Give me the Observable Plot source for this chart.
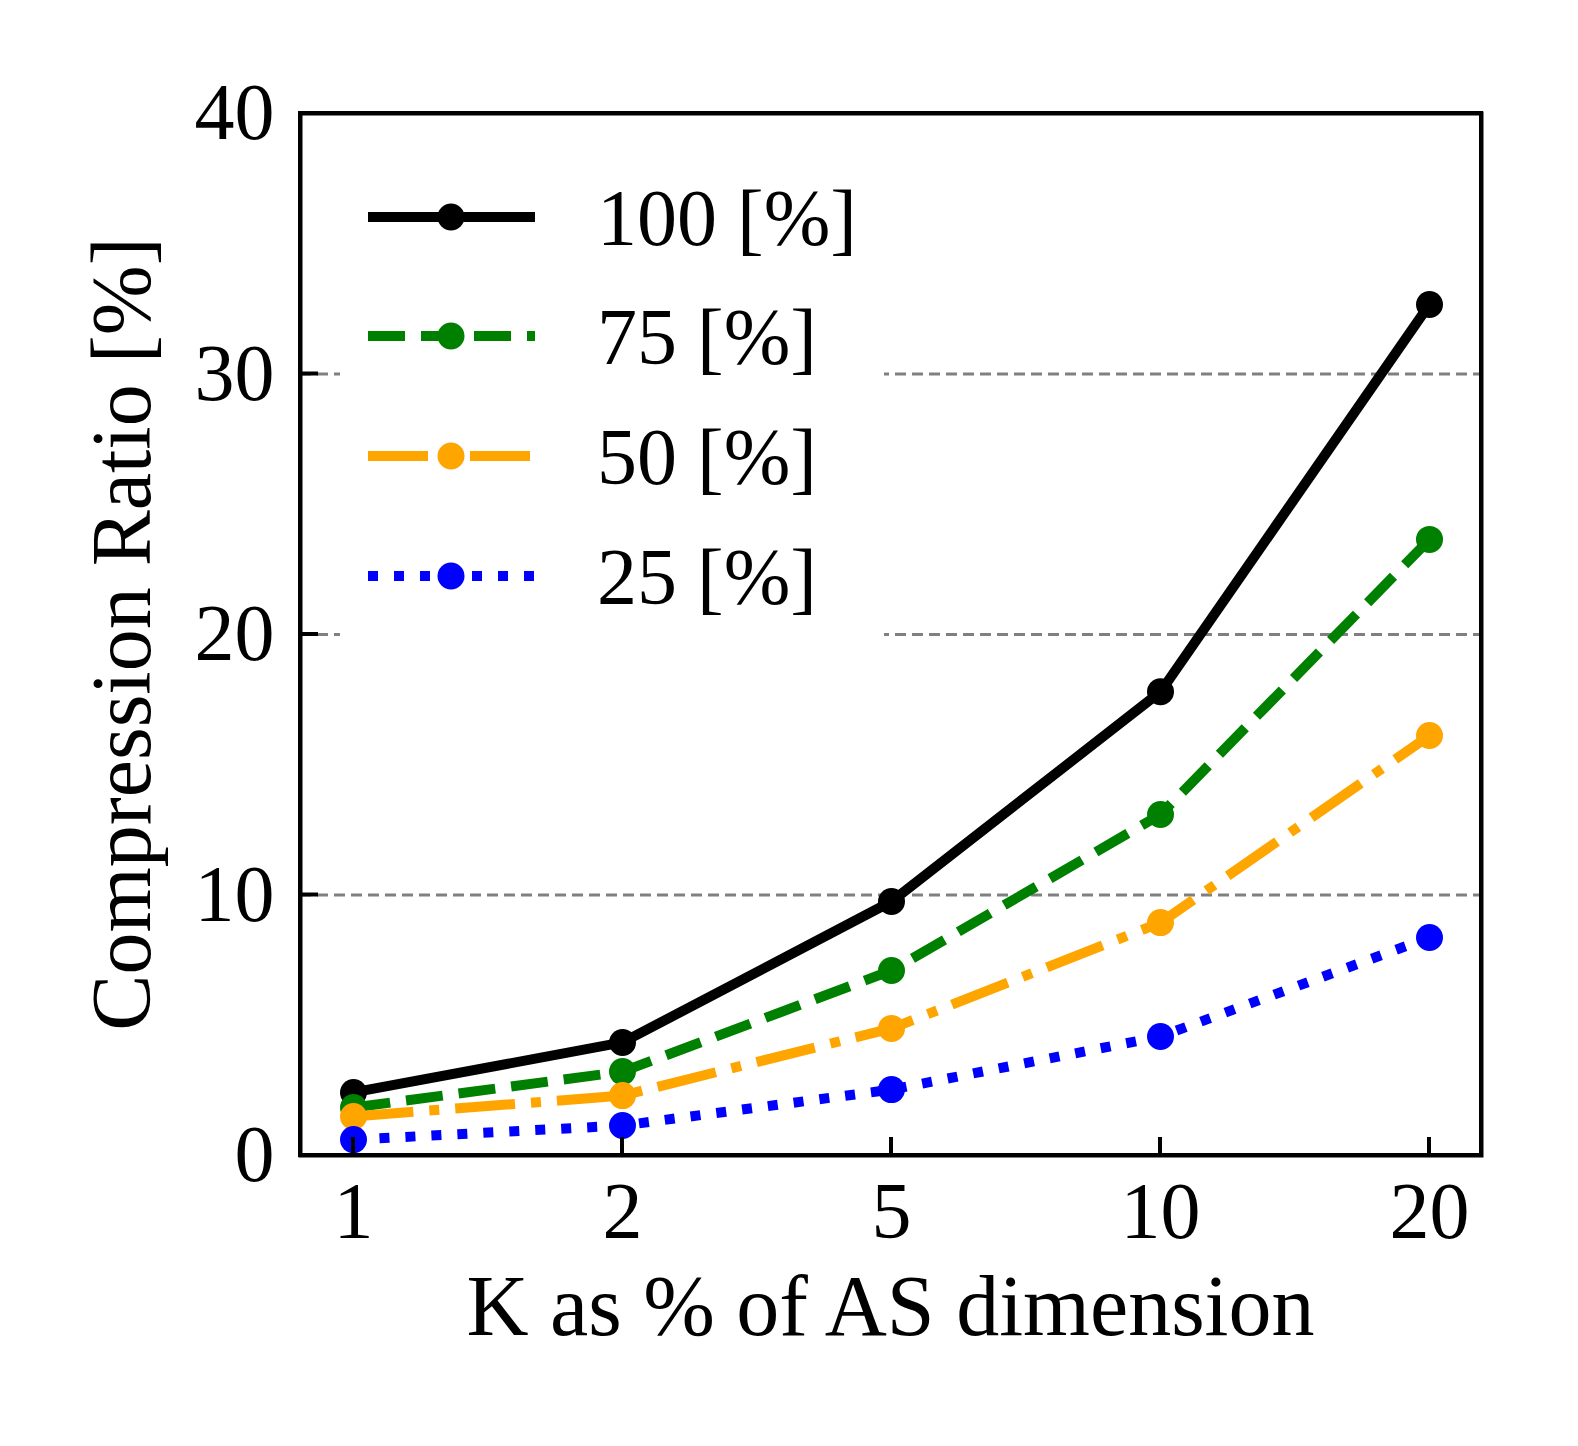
<!DOCTYPE html>
<html><head><meta charset="utf-8">
<script src="https://cdn.jsdelivr.net/npm/d3@7"></script>
<script src="https://cdn.jsdelivr.net/npm/@observablehq/plot@0.6"></script>
<style>
html,body{margin:0;padding:0;background:#fff;}
#chart{width:1578px;height:1446px;}
svg{font-family:"Liberation Serif","DejaVu Serif",serif;}
</style></head>
<body><div id="chart"></div>
<script>
const kValues = ["1", "2", "5", "10", "20"];
const seriesNames = ["100 [%]", "75 [%]", "50 [%]", "25 [%]"];
const values100 = [2.42, 4.34, 9.75, 17.8, 32.67];
const values75 = [1.84, 3.22, 7.1, 13.09, 23.65];
const values50 = [1.5, 2.3, 4.88, 8.94, 16.12];
const values25 = [0.61, 1.15, 2.53, 4.57, 8.37];
const yTicks = [0, 10, 20, 30, 40];
const gridValues = [10, 20, 30];
const colors = ["black", "green", "orange", "blue"];
const dashes = [null, "37,16", "60,16,10,16", "10,16"];
const xLabel = "K as % of AS dimension";
const yLabel = "Compression Ratio [%]";

const allSeries = [values100, values75, values50, values25];
const tables = allSeries.map((vals, i) => vals.map((v, j) => ({k: kValues[j], v, s: seriesNames[i]})));

const lineMarks = tables.flatMap((t, i) => [
  Plot.line(t, {x: "k", y: "v", stroke: colors[i], strokeWidth: 10,
    strokeDasharray: dashes[i] || undefined, strokeLinecap: "butt", strokeLinejoin: "round"}),
  Plot.dot(t, {x: "k", y: "v", r: 13.5, fill: colors[i], stroke: "none"})
]);

const plot = Plot.plot({
  width: 1578,
  height: 1446,
  marginLeft: 300,
  marginRight: 97,
  marginTop: 113,
  marginBottom: 291,
  style: {fontFamily: '"Liberation Serif","DejaVu Serif",serif', background: "white"},
  x: {type: "point", domain: kValues, padding: 0.195},
  y: {domain: [0, 40]},
  marks: [
    Plot.ruleY(gridValues, {stroke: "#808080", strokeWidth: 3, strokeDasharray: "11,6"}),
    ...lineMarks,
    Plot.axisX({tickSize: 0, tickPadding: 26, fontSize: 80, label: null}),
    Plot.axisY({ticks: yTicks, tickSize: 0, tickPadding: 26, fontSize: 80, label: null}),
    Plot.frame({stroke: "black", strokeWidth: 4})
  ]
});
document.getElementById("chart").appendChild(plot);

const svg = d3.select(plot);
const xs = plot.scale("x"), ys = plot.scale("y");
const fLeft = 300, fRight = 1578 - 97, fTop = 113, fBottom = 1446 - 291;

// inward ticks
const tg = svg.append("g").attr("stroke", "black").attr("stroke-width", 4);
kValues.forEach(k => {
  const x = xs.apply(k);
  tg.append("line").attr("x1", x).attr("x2", x).attr("y1", fBottom).attr("y2", fBottom - 18);
});
yTicks.forEach(t => {
  const y = ys.apply(t);
  tg.append("line").attr("x1", fLeft).attr("x2", fLeft + 18).attr("y1", y).attr("y2", y);
});

// legend box
const lg = svg.append("g");
lg.append("rect").attr("x", 340).attr("y", 150).attr("width", 544).attr("height", 500).attr("fill", "white");
const rowY = [217, 336, 456, 576];
seriesNames.forEach((name, i) => {
  const y = rowY[i];
  const ln = lg.append("line").attr("x1", 368).attr("x2", 535).attr("y1", y).attr("y2", y)
    .attr("stroke", colors[i]).attr("stroke-width", 10).attr("stroke-linecap", "butt");
  if (dashes[i]) ln.attr("stroke-dasharray", dashes[i]);
  lg.append("circle").attr("cx", 451).attr("cy", y).attr("r", 13.5).attr("fill", colors[i]);
  lg.append("text").attr("x", 597).attr("y", y).attr("dy", "0.35em").attr("text-anchor", "start")
    .attr("font-size", 80).attr("fill", "black").text(name);
});
// frame on top of legend box
svg.append("rect").attr("x", fLeft).attr("y", fTop).attr("width", fRight - fLeft).attr("height", fBottom - fTop)
  .attr("fill", "none").attr("stroke", "black").attr("stroke-width", 4);

// axis titles
svg.append("text").attr("x", (fLeft + fRight) / 2).attr("y", 1335).attr("text-anchor", "middle")
  .attr("font-size", 86).attr("fill", "black").text(xLabel);
svg.append("text").attr("transform", `translate(150,${(fTop + fBottom) / 2}) rotate(-90)`)
  .attr("text-anchor", "middle").attr("font-size", 84).attr("fill", "black").text(yLabel);
</script>
</body></html>
